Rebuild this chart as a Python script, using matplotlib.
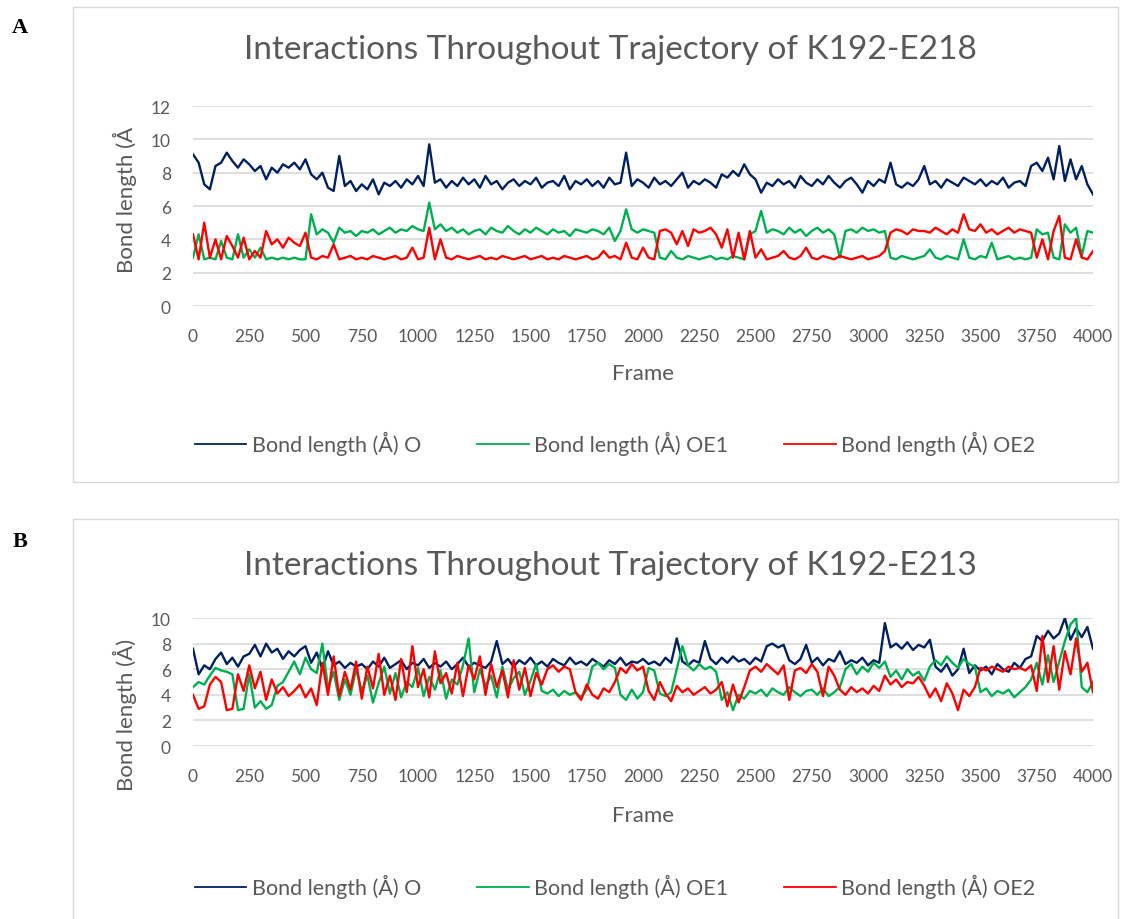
import numpy as np
import matplotlib
matplotlib.use("Agg")
import matplotlib.pyplot as plt
from matplotlib.patches import Rectangle

plt.rcParams['font.family'] = ['Lato', 'DejaVu Sans']

# frames sampled every 25 steps, 0..4000
step = 25
frames = np.arange(0, 4001, step)

# ---- panel A: K192-E218 ----
a_O = [9.1, 8.6, 7.3, 7.0, 8.4, 8.6, 9.2, 8.7, 8.3, 8.8,
       8.5, 8.1, 8.4, 7.6, 8.3, 8.0, 8.5, 8.3, 8.6, 8.2,
       8.8, 7.9, 7.6, 8.0, 7.1, 6.9, 9.0, 7.2, 7.5, 6.9,
       7.3, 7.0, 7.6, 6.7, 7.4, 7.2, 7.5, 7.1, 7.6, 7.3,
       7.8, 7.2, 9.7, 7.4, 7.6, 7.1, 7.5, 7.2, 7.7, 7.3,
       7.6, 7.1, 7.8, 7.3, 7.5, 7.0, 7.4, 7.6, 7.2, 7.5,
       7.3, 7.7, 7.1, 7.4, 7.5, 7.2, 7.8, 7.0, 7.5, 7.3,
       7.6, 7.2, 7.5, 7.1, 7.7, 7.3, 7.4, 9.2, 7.2, 7.6,
       7.4, 7.1, 7.7, 7.3, 7.5, 7.2, 7.6, 8.0, 7.1, 7.5,
       7.3, 7.6, 7.4, 7.1, 7.9, 7.7, 8.1, 7.8, 8.5, 7.9,
       7.6, 6.8, 7.4, 7.2, 7.6, 7.3, 7.5, 7.1, 7.8, 7.4,
       7.2, 7.6, 7.3, 7.8, 7.4, 7.1, 7.5, 7.7, 7.3, 6.8,
       7.5, 7.2, 7.6, 7.4, 8.6, 7.3, 7.1, 7.4, 7.2, 7.6,
       8.4, 7.3, 7.5, 7.1, 7.6, 7.4, 7.2, 7.7, 7.5, 7.3,
       7.6, 7.2, 7.5, 7.3, 7.7, 7.1, 7.4, 7.5, 7.2, 8.4,
       8.6, 8.1, 8.9, 7.6, 9.6, 7.5, 8.8, 7.6, 8.4, 7.3,
       6.7]
a_OE1 = [2.9, 4.3, 2.8, 2.9, 2.8, 3.9, 2.9, 2.8, 4.3, 2.9,
         3.4, 2.9, 3.5, 2.8, 2.9, 2.8, 2.9, 2.8, 2.9, 2.8,
         2.8, 5.5, 4.3, 4.6, 4.4, 3.8, 4.7, 4.4, 4.5, 4.2,
         4.5, 4.4, 4.6, 4.3, 4.5, 4.7, 4.4, 4.6, 4.5, 4.8,
         4.6, 4.5, 6.2, 4.6, 4.9, 4.5, 4.7, 4.4, 4.6, 4.3,
         4.5, 4.6, 4.3, 4.7, 4.5, 4.4, 4.8, 4.5, 4.3, 4.6,
         4.4, 4.7, 4.5, 4.3, 4.6, 4.4, 4.5, 4.2, 4.6, 4.5,
         4.4, 4.6, 4.5, 4.3, 4.7, 3.9, 4.5, 5.8, 4.6, 4.4,
         4.6, 4.5, 4.4, 2.9, 2.8, 3.3, 2.9, 2.8, 3.0, 2.9,
         2.8, 2.9, 3.0, 2.8, 2.9, 2.8, 3.0, 2.9, 2.8, 4.3,
         4.5, 5.7, 4.4, 4.6, 4.5, 4.3, 4.7, 4.4, 4.6, 4.2,
         4.5, 4.7, 4.4, 4.6, 4.3, 2.9, 4.5, 4.6, 4.4, 4.7,
         4.5, 4.6, 4.4, 4.5, 2.9, 2.8, 3.0, 2.9, 2.8, 2.9,
         3.0, 3.4, 2.9, 2.8, 3.0, 2.9, 2.8, 4.0, 2.9, 2.8,
         3.0, 2.9, 3.8, 2.8, 2.9, 3.0, 2.8, 2.9, 2.8, 2.9,
         4.6, 4.3, 4.4, 2.9, 2.8, 4.9, 4.4, 4.7, 3.0, 4.5,
         4.4]
a_OE2 = [4.3, 2.8, 5.0, 2.9, 4.0, 2.8, 4.2, 3.6, 2.9, 4.1,
         2.8, 3.3, 2.9, 4.5, 3.7, 4.0, 3.5, 4.1, 3.8, 3.6,
         4.4, 2.9, 2.8, 3.0, 2.9, 3.7, 2.8, 2.9, 3.0, 2.8,
         2.9, 2.8, 3.0, 2.9, 2.8, 2.9, 3.0, 2.8, 2.9, 3.5,
         2.8, 2.9, 4.7, 2.8, 4.0, 2.9, 2.8, 3.0, 2.9, 2.8,
         2.9, 3.0, 2.8, 2.9, 2.8, 3.0, 2.9, 2.8, 2.9, 3.0,
         2.8, 2.9, 3.0, 2.8, 2.9, 2.8, 3.0, 2.9, 2.8, 2.9,
         3.0, 2.8, 2.9, 3.3, 2.9, 3.0, 2.8, 3.8, 2.9, 2.8,
         3.5, 2.9, 2.8, 4.5, 4.6, 4.4, 3.7, 4.5, 3.6, 4.6,
         4.4, 4.5, 4.7, 4.3, 3.5, 4.6, 2.9, 4.4, 2.8, 4.5,
         2.9, 3.4, 2.8, 2.9, 3.0, 3.3, 2.9, 2.8, 3.0, 3.5,
         2.9, 2.8, 3.0, 2.9, 2.8, 3.0, 2.9, 2.8, 2.9, 3.0,
         2.8, 2.9, 3.0, 3.3, 4.4, 4.6, 4.5, 4.3, 4.6, 4.5,
         4.5, 4.4, 4.7, 4.5, 4.3, 4.6, 4.4, 5.5, 4.6, 4.5,
         4.9, 4.4, 4.6, 4.3, 4.5, 4.7, 4.4, 4.6, 4.5, 4.4,
         2.9, 4.0, 2.8, 4.5, 5.4, 2.9, 2.8, 4.0, 2.9, 2.8,
         3.3]

# ---- panel B: K192-E213 ----
b_O = [7.6, 5.6, 6.3, 6.0, 6.8, 7.3, 6.4, 6.9, 6.2, 7.0,
       7.2, 7.9, 7.0, 8.0, 7.3, 7.6, 6.8, 7.4, 7.0, 7.5,
       7.8, 6.5, 7.3, 6.0, 7.4, 6.3, 6.6, 6.1, 6.5, 6.2,
       6.4, 6.0, 6.6, 6.2, 6.9, 6.1, 6.4, 6.7, 6.0, 6.5,
       6.3, 6.8, 6.1, 6.5, 6.2, 6.6, 6.0, 6.4, 6.9, 6.2,
       6.5, 6.3, 6.1, 6.6, 8.2, 6.4, 6.8, 6.2, 6.7, 6.4,
       6.9, 6.3, 6.6, 6.2, 6.8, 6.5, 6.3, 6.9, 6.4, 6.6,
       6.3, 6.8, 6.5, 6.2, 6.7, 6.4, 6.9, 6.3, 6.6, 6.5,
       6.8, 6.4, 6.6, 6.3, 6.9, 6.5, 8.4, 6.6, 6.3, 6.7,
       6.5, 8.2, 6.8, 6.4, 6.9, 6.5, 7.0, 6.6, 6.8, 6.4,
       6.9, 6.6, 7.8, 8.0, 7.7, 7.9, 6.7, 6.4, 6.8, 7.9,
       6.5, 6.9, 6.3, 6.8, 6.6, 7.4, 6.4, 6.7, 6.5, 6.9,
       6.3, 6.7, 6.5, 9.6, 7.7, 8.0, 7.6, 8.1, 7.5, 7.9,
       7.7, 8.3, 6.2, 5.8, 6.4, 5.5, 6.0, 7.6, 5.7, 6.3,
       5.9, 6.2, 5.6, 6.4, 6.0, 5.8, 6.5, 6.1, 6.8, 7.0,
       8.6, 8.2, 9.0, 8.4, 8.8, 10.0, 8.3, 9.2, 8.5, 9.3,
       7.6]
b_OE1 = [4.6, 5.0, 4.8, 5.5, 6.1, 5.9, 5.8, 5.6, 2.8, 2.9,
         5.6, 3.0, 3.5, 2.9, 3.2, 4.7, 5.0, 5.8, 6.6, 5.6,
         6.9, 6.0, 5.7, 8.0, 4.5, 5.8, 3.6, 5.2, 4.0, 6.0,
         4.3, 5.5, 3.4, 4.9, 6.2, 4.1, 5.7, 3.8, 5.0, 4.6,
         6.1, 3.9, 5.4, 4.4, 5.9, 3.7, 5.2, 4.8, 6.3, 8.4,
         4.2, 6.0, 4.7, 5.5, 3.8, 6.2, 4.4, 5.3, 5.8, 4.0,
         5.1, 6.4, 4.3, 4.1, 4.4, 3.9, 4.3, 4.0, 4.2, 3.8,
         4.4, 6.2, 6.5, 6.0, 6.4, 6.1, 4.0, 3.6, 4.4, 3.7,
         4.2, 6.1, 5.9, 4.1, 3.9, 4.2, 6.0, 7.8, 6.3, 5.9,
         6.4, 6.0, 6.2, 5.8, 3.6, 4.2, 2.8, 4.0, 3.7, 4.3,
         4.1, 4.4, 3.9, 4.5, 4.2, 4.0, 4.6, 4.2, 3.9, 4.3,
         4.4, 4.0, 4.5, 3.9, 4.2, 4.6, 6.0, 6.4, 5.6, 6.2,
         5.8, 6.5, 6.1, 6.6, 5.4, 5.9, 5.2, 6.0, 5.5, 5.8,
         5.1, 6.2, 6.7, 6.3, 7.0, 6.5, 6.1, 6.8, 6.4, 6.2,
         4.2, 4.5, 3.9, 4.3, 4.1, 4.4, 3.8, 4.2, 4.6, 5.2,
         6.5, 4.8, 7.1, 5.0, 6.6, 8.2, 9.5, 10.0, 4.6, 4.2,
         5.0]
b_OE2 = [4.0, 2.9, 3.1, 4.8, 5.4, 5.0, 2.8, 2.9, 5.6, 4.3,
         6.3, 4.5, 5.8, 3.6, 5.2, 4.1, 4.6, 3.9, 4.3, 4.8,
         3.8, 4.5, 3.2, 6.5, 4.0, 7.0, 3.9, 5.8, 4.4, 6.6,
         3.7, 6.2, 4.5, 7.2, 4.0, 5.5, 3.6, 6.8, 4.2, 7.8,
         4.6, 6.0, 3.8, 7.4, 4.9, 5.7, 4.1, 6.5, 3.9, 6.3,
         5.2, 7.0, 4.0, 6.4, 4.6, 5.9, 3.8, 6.7, 4.4, 6.1,
         3.9, 5.7, 4.8, 6.0, 6.3, 5.8, 6.2, 6.0, 4.2, 3.6,
         4.8, 4.0, 3.7, 4.5, 4.2, 5.0, 6.1, 5.7, 6.4, 5.9,
         6.2, 4.3, 3.6, 5.0, 4.1, 3.5, 4.7, 4.2, 4.5, 4.0,
         4.3, 4.6, 4.1, 4.4, 5.0, 3.1, 4.8, 3.4, 4.6, 5.9,
         6.2, 5.8, 6.4, 6.0, 5.6, 6.3, 3.6, 5.9, 6.1, 5.7,
         6.4, 5.8, 3.9, 6.2, 5.5, 4.4, 4.0, 4.6, 4.2, 4.5,
         4.1, 4.7, 4.3, 5.5, 4.8, 5.2, 4.6, 5.0, 4.9, 5.4,
         4.7, 3.8, 4.5, 3.5, 4.9, 4.1, 2.8, 4.4, 3.9, 4.6,
         6.1, 5.9, 6.2, 6.0, 5.8, 6.2, 6.0, 6.1, 5.9, 6.3,
         4.3, 8.6, 5.0, 7.8, 4.4, 7.4, 5.6, 8.4, 5.8, 6.5,
         4.2]

series_names = ["Bond length (Å) O", "Bond length (Å) OE1", "Bond length (Å) OE2"]
colors = ["#002060", "#00B050", "#FF0000"]
xticks = np.arange(0, 4001, 250)

W, H = 1132, 920
fig = plt.figure(figsize=(W / 100, H / 100), dpi=100)
grey = "#595959"

# panel frames
fig.patches.append(Rectangle((73 / W, 1 - 483 / H), 1045 / W, 475 / H, transform=fig.transFigure,
                             fill=False, edgecolor="#D9D9D9", lw=1))
fig.patches.append(Rectangle((73 / W, -0.01), 1045 / W, 1 - 520 / H + 0.01, transform=fig.transFigure,
                             fill=False, edgecolor="#D9D9D9", lw=1))


def panel(rect, data, ymax, title, ylab, title_y, ylab_y, frame_y, leg_y):
    ax = fig.add_axes(rect)
    for vals, c, name in zip(data, colors, series_names):
        ax.plot(frames, vals, color=c, lw=1.7, label=name)
    ax.set_xlim(0, 4000)
    ax.set_ylim(0, ymax)
    ax.set_yticks(np.arange(0, ymax + 1, 2))
    ax.set_xticks(xticks)
    ax.grid(axis="y", color="#D9D9D9", lw=1.2)
    ax.set_axisbelow(True)
    for s in ax.spines.values():
        s.set_visible(False)
    ax.tick_params(length=0, colors=grey, labelsize=12.5)
    ax.tick_params(axis="y", pad=16)
    ax.tick_params(axis="x", pad=16)
    fig.text(610 / W, 1 - title_y / H, title, ha="center", va="center",
             fontsize=24, color=grey)
    fig.text(125 / W, 1 - ylab_y / H, ylab, ha="center", va="center", rotation=90,
             fontsize=16, color=grey)
    fig.text(643 / W, 1 - frame_y / H, "Frame", ha="center", va="center",
             fontsize=16, color=grey)
    h, l = ax.get_legend_handles_labels()
    leg = fig.legend(h, l, loc="center", bbox_to_anchor=(615 / W, 1 - leg_y / H), ncol=3,
                     frameon=False, fontsize=15.5, labelcolor=grey, handlelength=2.4,
                     columnspacing=2.6, handletextpad=0.25)
    for ln in leg.get_lines():
        ln.set_linewidth(1.3)
    return ax


panel([193 / W, 1 - 307 / H, 900 / W, 200 / H], [a_O, a_OE1, a_OE2], 12,
      "Interactions Throughout Trajectory of K192-E218", "Bond length (Å",
      50, 200, 374, 444)
panel([193 / W, 1 - 747 / H, 900 / W, 128 / H], [b_O, b_OE1, b_OE2], 10,
      "Interactions Throughout Trajectory of K192-E213", "Bond length (Å)",
      566, 715, 816, 887)

fig.text(20 / W, 1 - 28 / H, "A", fontsize=16, fontweight="bold", family="Liberation Serif",
         ha="center", va="center")
fig.text(20 / W, 1 - 542 / H, "B", fontsize=16, fontweight="bold", family="Liberation Serif",
         ha="center", va="center")

fig.savefig("out.png", dpi=100)
